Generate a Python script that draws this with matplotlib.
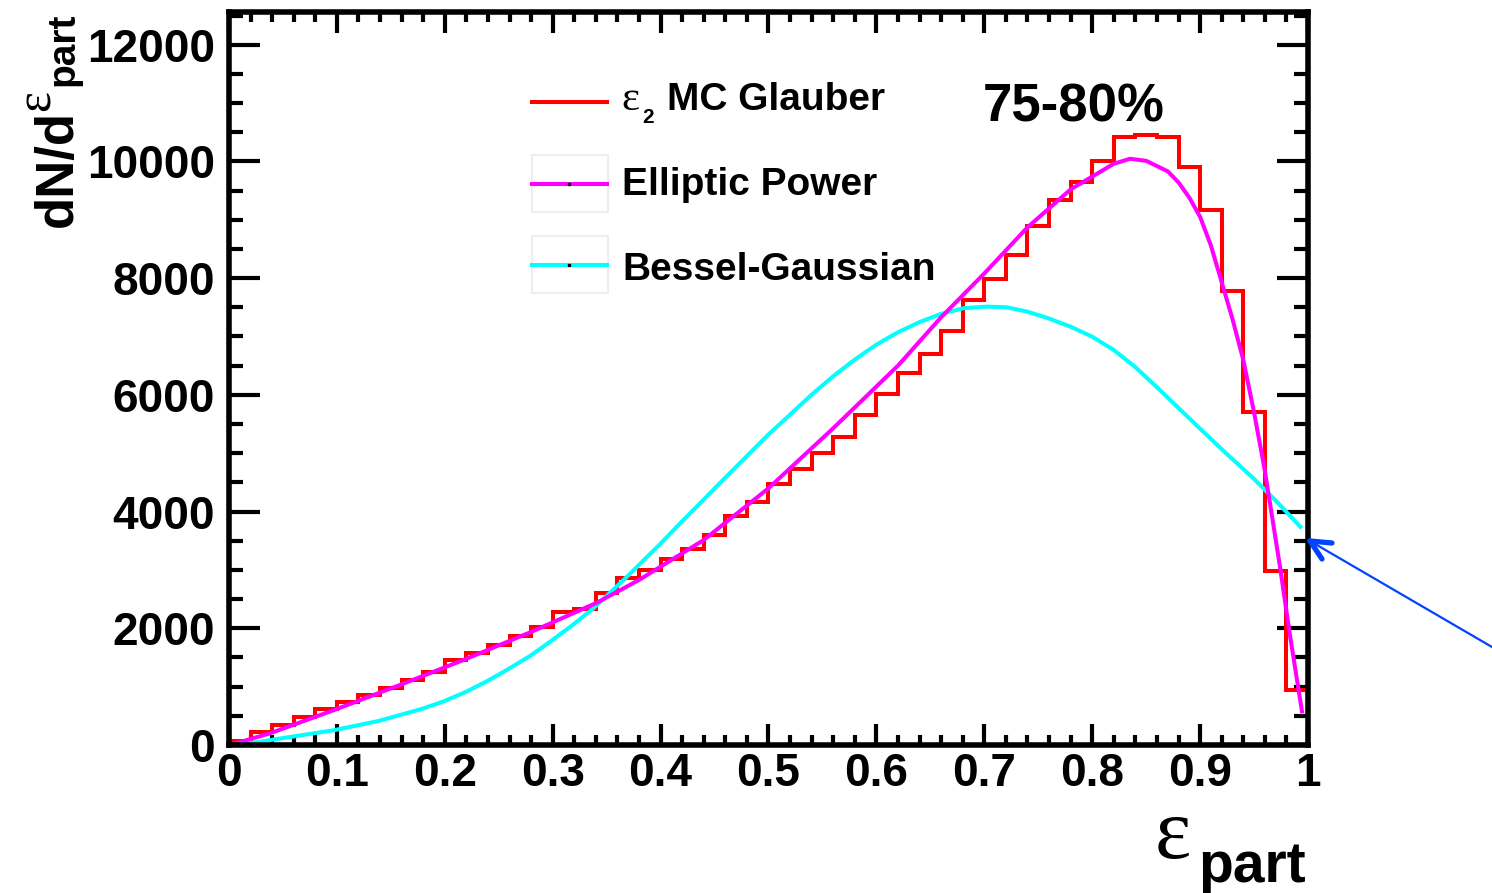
import matplotlib
matplotlib.use("Agg")
import matplotlib.pyplot as plt
import numpy as np
from matplotlib.patches import Rectangle
from matplotlib.lines import Line2D

# ---------------- data ----------------
bin_edges = [round(0.02 * i, 2) for i in range(51)]
glauber_counts = [60, 215, 345, 475, 615, 740, 855, 977, 1114, 1251,
                  1457, 1582, 1719, 1868, 2027, 2279, 2326, 2600, 2857, 2999,
                  3188, 3354, 3599, 3925, 4159, 4468, 4730, 4999, 5284, 5655,
                  6010, 6370, 6696, 7100, 7626, 7981, 8392, 8900, 9340, 9649,
                  10009, 10425, 10459, 10425, 9901, 9169, 7775, 5712, 2982, 943]

ep_x = [0.004, 0.038, 0.099, 0.159, 0.219, 0.280, 0.341, 0.380, 0.440, 0.500,
        0.560, 0.620, 0.660, 0.700, 0.740, 0.780, 0.820, 0.835, 0.850, 0.870,
        0.880, 0.890, 0.900, 0.910, 0.920, 0.930, 0.940, 0.950, 0.960, 0.974,
        0.983, 0.9947]
ep_y = [17, 200, 610, 1033, 1469, 1937, 2439, 2828, 3513, 4399,
        5428, 6500, 7330, 8080, 8870, 9520, 9960, 10045, 10010, 9830,
        9640, 9380, 9050, 8560, 7930, 7300, 6600, 5700, 4700, 3060,
        1914, 543]

bg_x = [0.004, 0.0287, 0.0982, 0.1384, 0.1785, 0.1981, 0.2187, 0.2388, 0.2579, 0.2790,
        0.2990, 0.3185, 0.3376, 0.3670, 0.3994, 0.4196, 0.4396, 0.4594, 0.4794, 0.4995,
        0.5197, 0.5397, 0.5595, 0.5795, 0.5996, 0.6197, 0.6404, 0.6596, 0.6806, 0.7022,
        0.7207, 0.7398, 0.7593, 0.7797, 0.7998, 0.8199, 0.8397, 0.8600, 0.8752, 0.9000,
        0.9247, 0.9493, 0.9710, 0.9942]
bg_y = [0, 57, 257, 411, 617, 742, 903, 1090, 1290, 1525,
        1788, 2057, 2340, 2850, 3440, 3827, 4199, 4571, 4941, 5313,
        5656, 5998, 6312, 6598, 6855, 7070, 7250, 7385, 7484, 7512,
        7500, 7426, 7312, 7169, 6998, 6770, 6480, 6130, 5860, 5420,
        4987, 4571, 4170, 3714]

y_ticks = [0, 2000, 4000, 6000, 8000, 10000, 12000]
x_ticks = [0, 0.1, 0.2, 0.3, 0.4, 0.5, 0.6, 0.7, 0.8, 0.9, 1.0]
x_tick_labels = ["0", "0.1", "0.2", "0.3", "0.4", "0.5", "0.6", "0.7", "0.8", "0.9", "1"]
legend_labels = ["MC Glauber", "Elliptic Power", "Bessel-Gaussian"]
centrality_label = "75-80%"

# ---------------- style ----------------
plt.rcParams['font.family'] = ['Liberation Sans', 'DejaVu Sans']
plt.rcParams['font.weight'] = 'bold'
SERIF = dict(family=['Liberation Serif', 'DejaVu Serif'], fontweight='normal')

W, H = 1492, 893
fig = plt.figure(figsize=(W / 100, H / 100), dpi=100)
fig.patch.set_facecolor('white')

def fx(px):
    return px / W

def fy(py):
    return 1 - py / H

ax = fig.add_axes([fx(229), fy(745), fx(1308) - fx(229), fy(12) - fy(745)])
ax.set_xlim(0, 1)
ax.set_ylim(0, 12560)

ax.stairs(glauber_counts, bin_edges, color='#ff0000', lw=2.9, baseline=None, zorder=3)
ax.plot(bg_x, bg_y, color='#00ffff', lw=2.9, zorder=4, solid_capstyle='butt',
        solid_joinstyle='round')
ax.plot(ep_x, ep_y, color='#ff00ff', lw=2.9, zorder=5, solid_capstyle='butt',
        solid_joinstyle='round')

for s in ax.spines.values():
    s.set_linewidth(4)
    s.set_zorder(10)

ax.set_xticks(x_ticks)
ax.set_xticklabels(x_tick_labels)
ax.set_xticks(np.arange(0, 1.0001, 0.02), minor=True)
ax.set_yticks(y_ticks)
ax.set_yticklabels([str(v) for v in y_ticks])
ax.set_yticks(np.arange(0, 12501, 500), minor=True)

ax.tick_params(axis='both', which='both', direction='in', top=True, right=True, width=3)
ax.tick_params(axis='x', which='major', length=15, labelsize=33, pad=5)
ax.tick_params(axis='x', which='minor', length=7)
ax.tick_params(axis='y', which='major', length=22, labelsize=33, pad=10)
ax.tick_params(axis='y', which='minor', length=10)
for lab in ax.get_xticklabels() + ax.get_yticklabels():
    lab.set_fontweight('bold')

# ---------------- axis titles ----------------
fig.text(fx(1155), fy(858), "\u03b5", fontsize=62, ha='left', va='baseline', **SERIF)
fig.text(fx(1306), fy(882), "part", fontsize=41, fontweight='bold', ha='right', va='baseline')

fig.text(fx(72), fy(227), "dN/d", fontsize=38, fontweight='bold', rotation=90,
         rotation_mode='anchor', ha='left', va='baseline')
fig.text(fx(50), fy(111), "\u03b5", fontsize=36, rotation=90,
         rotation_mode='anchor', ha='left', va='baseline', **SERIF)
fig.text(fx(73), fy(13), "part", fontsize=28, fontweight='bold', rotation=90,
         rotation_mode='anchor', ha='right', va='baseline')

fig.text(fx(1074), fy(122), centrality_label, fontsize=38, fontweight='bold',
         ha='center', va='baseline')

# ---------------- legend (manual) ----------------
ov = fig.add_axes([0, 0, 1, 1], zorder=20)
ov.set_xlim(0, W)
ov.set_ylim(H, 0)
ov.axis('off')
ov.patch.set_alpha(0)

entries = [('#ff0000', 102, 110, False), ('#ff00ff', 184, 195, True), ('#00ffff', 265, 280, True)]
for i, ((col, ly, ty, boxed), lab) in enumerate(zip(entries, legend_labels)):
    if boxed:
        ov.add_patch(Rectangle((532, ly - 29), 76, 57, fill=False, ec='#eeeeee', lw=1.5))
    ov.add_line(Line2D([532, 607], [ly, ly], color=col, lw=2.9))
    if boxed:
        ov.plot([569], [ly], marker='s', ms=1.5, color='black')
    if i == 0:
        ov.text(621, ty, "\u03b5", fontsize=31, ha='left', va='baseline', **SERIF)
        ov.text(642, 123, "2", fontsize=15, fontweight='bold', ha='left', va='baseline')
        ov.text(667, ty, lab, fontsize=28, fontweight='bold', ha='left', va='baseline')
    else:
        ov.text(622, ty, lab, fontsize=28, fontweight='bold', ha='left', va='baseline')

# ---------------- blue arrow (annotation) ----------------
tip = (1310, 541)
ov.add_line(Line2D([1492, tip[0]], [647, tip[1]], color='#0044ff', lw=1.6))
ov.add_line(Line2D([tip[0], 1332], [tip[1], 543], color='#0044ff', lw=3.8,
                   solid_capstyle='round'))
ov.add_line(Line2D([tip[0], 1322], [tip[1], 559], color='#0044ff', lw=3.8,
                   solid_capstyle='round'))

fig.savefig('out.png', dpi=100, facecolor='white')
